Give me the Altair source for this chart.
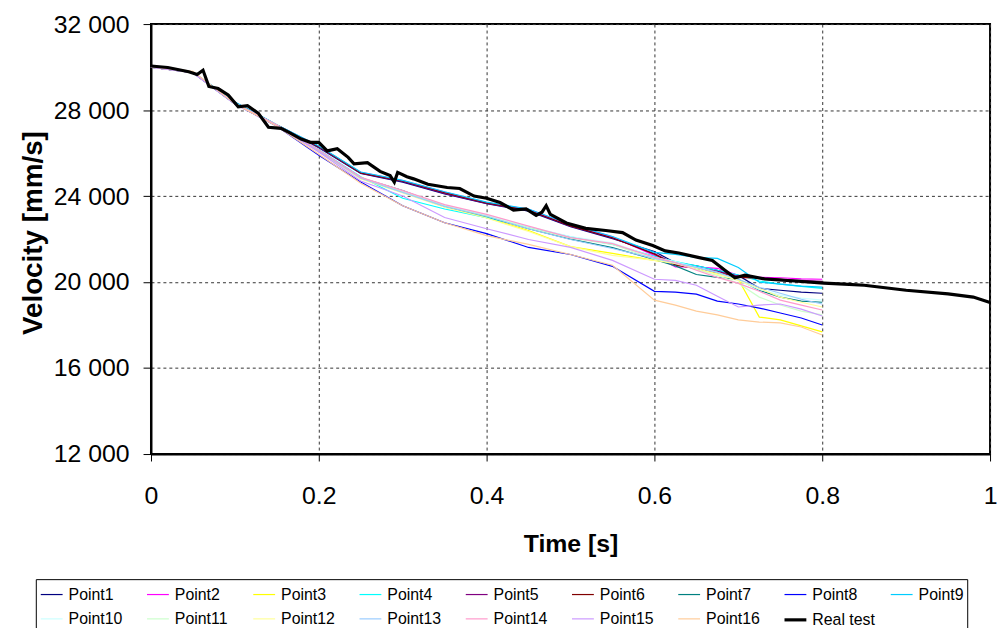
import altair as alt
import pandas as pd

# ---- data ----
t_points = [0, 0.05, 0.1, 0.15, 0.2, 0.25, 0.3, 0.35, 0.4, 0.45, 0.5, 0.55, 0.6,
            0.625, 0.65, 0.675, 0.7, 0.725, 0.75, 0.775, 0.8]

point1 = [30000, 29760, 28330, 27280, 26250, 25050, 24650, 24100, 23650, 23300, 22580, 22020, 21420, 20900, 20750, 20550, 20310, 19710, 19620, 19530, 19480]
point2 = [30000, 29750, 28350, 27310, 26320, 25100, 24720, 24180, 23700, 23380, 22650, 22100, 21240, 20700, 20700, 20640, 20310, 20220, 20200, 20150, 20130]
point3 = [30000, 29750, 28300, 27300, 26100, 24820, 24180, 23500, 23000, 22400, 21650, 21330, 21010, 20870, 20600, 20410, 20130, 18370, 18240, 17960, 17680]
point4 = [30000, 29750, 28300, 27280, 26150, 24900, 23900, 23400, 23000, 22550, 22100, 21750, 21200, 20950, 20750, 20550, 20330, 20050, 19900, 19800, 19710]
point5 = [30000, 29740, 28340, 27290, 26280, 25060, 24680, 24120, 23660, 23330, 22600, 22050, 21330, 20830, 20640, 20500, 20270, 20180, 20130, 20080, 20030]
point6 = [30000, 29750, 28360, 27300, 26300, 25080, 24700, 24160, 23680, 23350, 22610, 22060, 21300, 20780, 20640, 20450, 20220, 20180, 20130, 20040, 19990]
point7 = [30000, 29750, 28300, 27290, 26120, 24850, 24250, 23520, 23050, 22480, 22000, 21600, 21050, 20750, 20350, 20220, 20130, 19620, 19300, 19110, 19060]
point8 = [30000, 29740, 28280, 27250, 25900, 24650, 23550, 22760, 22250, 21610, 21280, 20730, 19570, 19530, 19440, 19110, 18980, 18790, 18560, 18330, 18000]
point9 = [30000, 29770, 28380, 27320, 26330, 25120, 24730, 24200, 23720, 23400, 22680, 22120, 21380, 21290, 21150, 21100, 20680, 19990, 19900, 19810, 19760]
point10 = [30000, 29760, 28320, 27310, 26130, 24860, 24230, 23580, 23120, 22580, 22120, 21820, 21150, 20950, 20680, 20450, 20080, 19660, 19390, 19250, 19160]
point11 = [30000, 29750, 28310, 27300, 26110, 24840, 24200, 23550, 23080, 22520, 22050, 21750, 21060, 20870, 20590, 20310, 19940, 19300, 18930, 18650, 18470]
point12 = [30000, 29740, 28290, 27290, 26080, 24800, 24150, 23480, 22980, 22350, 21650, 21240, 21010, 20870, 20640, 20360, 20080, 19710, 19300, 19060, 18840]
point13 = [30000, 29750, 28300, 27280, 26100, 24830, 24170, 23520, 23060, 22480, 21980, 21560, 21100, 20900, 20680, 20450, 20130, 19760, 19480, 19200, 18980]
point14 = [30000, 29760, 28320, 27310, 26140, 24870, 24250, 23600, 23150, 22600, 22070, 21790, 21150, 20910, 20550, 20220, 19940, 19570, 19160, 18930, 18700]
point15 = [30000, 29740, 28280, 27260, 26050, 24700, 24000, 23000, 22480, 21980, 21610, 21010, 20130, 20080, 19850, 19340, 18840, 18930, 18980, 18740, 18420]
point16 = [30020, 29800, 28300, 27250, 25950, 24600, 23550, 22760, 22160, 21750, 21280, 20780, 19160, 18930, 18650, 18470, 18240, 18140, 18100, 17910, 17540]

t_real = [0, 0.02, 0.045, 0.055, 0.062, 0.069, 0.08, 0.092, 0.104, 0.115,
          0.128, 0.14, 0.155, 0.165, 0.179, 0.19, 0.2, 0.21, 0.222, 0.235,
          0.242, 0.258, 0.273, 0.285, 0.29, 0.294, 0.305, 0.313, 0.33, 0.353,
          0.368, 0.385, 0.4, 0.416, 0.432, 0.447, 0.459, 0.466, 0.471, 0.476,
          0.495, 0.518, 0.542, 0.562, 0.578, 0.598, 0.613, 0.629, 0.652, 0.669,
          0.684, 0.696, 0.708, 0.731, 0.767, 0.802, 0.826, 0.85, 0.9, 0.95,
          0.98, 1.0]
v_real = [30050, 29980, 29780, 29650, 29850, 29100, 29000, 28700, 28150, 28200,
          27850, 27200, 27150, 26950, 26650, 26500, 26500, 26100, 26200, 25800,
          25500, 25550, 25150, 24950, 24650, 25100, 24900, 24800, 24550, 24400,
          24350, 24000, 23900, 23700, 23350, 23400, 23100, 23250, 23550, 23150,
          22750, 22500, 22400, 22300, 21950, 21700, 21450, 21350, 21150, 21000,
          20550, 20200, 20320, 20150, 20050, 19950, 19900, 19850, 19620, 19450,
          19300, 19050]

series_names = ["Point1", "Point2", "Point3", "Point4", "Point5", "Point6", "Point7",
                "Point8", "Point9", "Point10", "Point11", "Point12", "Point13",
                "Point14", "Point15", "Point16", "Real test"]
series_colors = ["#000080", "#FF00FF", "#FFFF00", "#00FFFF", "#800080", "#800000",
                 "#008080", "#0000FF", "#00CCFF", "#CCFFFF", "#CCFFCC", "#FFFF99",
                 "#99CCFF", "#FF99CC", "#CC99FF", "#FFCC99", "#000000"]
series_widths = [1.2] * 16 + [3.2]

x_ticks = [0, 0.2, 0.4, 0.6, 0.8, 1]
y_ticks = [12000, 16000, 20000, 24000, 28000, 32000]

point_values = [point1, point2, point3, point4, point5, point6, point7, point8,
                point9, point10, point11, point12, point13, point14, point15, point16]

rows = []
for name, vals in zip(series_names[:16], point_values):
    for i, (t, v) in enumerate(zip(t_points, vals)):
        rows.append({"series": name, "t": t, "v": v, "i": i})
for i, (t, v) in enumerate(zip(t_real, v_real)):
    rows.append({"series": "Real test", "t": t, "v": v, "i": i})
df = pd.DataFrame(rows)

FONT = "Liberation Sans"

legend = alt.Legend(
    title=None, orient="none", legendX=-116, legendY=559, direction="horizontal",
    columns=9, symbolType="stroke", symbolSize=484, gridAlign="all",
    columnPadding=8, rowPadding=4, padding=3, labelOffset=4,
    labelFont=FONT, labelFontSize=16, labelColor="#000",
    strokeColor="#000", fillColor="#fff", labelLimit=200,
)

chart = alt.Chart(df).mark_line().encode(
    x=alt.X("t:Q", scale=alt.Scale(domain=[0, 1], nice=False, zero=False),
            axis=alt.Axis(values=x_ticks, format="~g", title="Time [s]",
                          tickSize=7, labelPadding=23, titlePadding=23,
                          titleFontSize=25, labelFlush=False)),
    y=alt.Y("v:Q", scale=alt.Scale(domain=[12000, 32000], nice=False, zero=False),
            axis=alt.Axis(values=y_ticks, title="Velocity [mm/s]",
                          labelExpr="replace(format(datum.value, ','), ',', ' ')",
                          tickSize=8, labelPadding=14, titlePadding=6,
                          titleFontSize=28, titleY=210, labelFlush=False)),
    color=alt.Color("series:N", scale=alt.Scale(domain=series_names, range=series_colors),
                    legend=legend),
    strokeWidth=alt.StrokeWidth("series:N",
                                scale=alt.Scale(type="ordinal", domain=series_names,
                                                range=series_widths),
                                legend=legend),
    order=alt.Order("i:Q"),
).properties(
    width=845, height=433,
    autosize=alt.AutoSizeParams(type="none"),
    padding={"left": 144, "top": 14, "right": 7, "bottom": 173},
).configure(
    background="white"
).configure_view(
    stroke="#000", strokeWidth=2
).configure_axis(
    grid=True, gridColor="#333", gridDash=[3, 3], gridWidth=1,
    domainColor="#000", domainWidth=2, tickColor="#000", tickWidth=1,
    labelFont=FONT, labelFontSize=25, labelColor="#000",
    titleFont=FONT, titleFontSize=25, titleFontWeight="bold", titleColor="#000",
)

chart.save("out.html", embed_options={"renderer": "svg", "actions": False})
